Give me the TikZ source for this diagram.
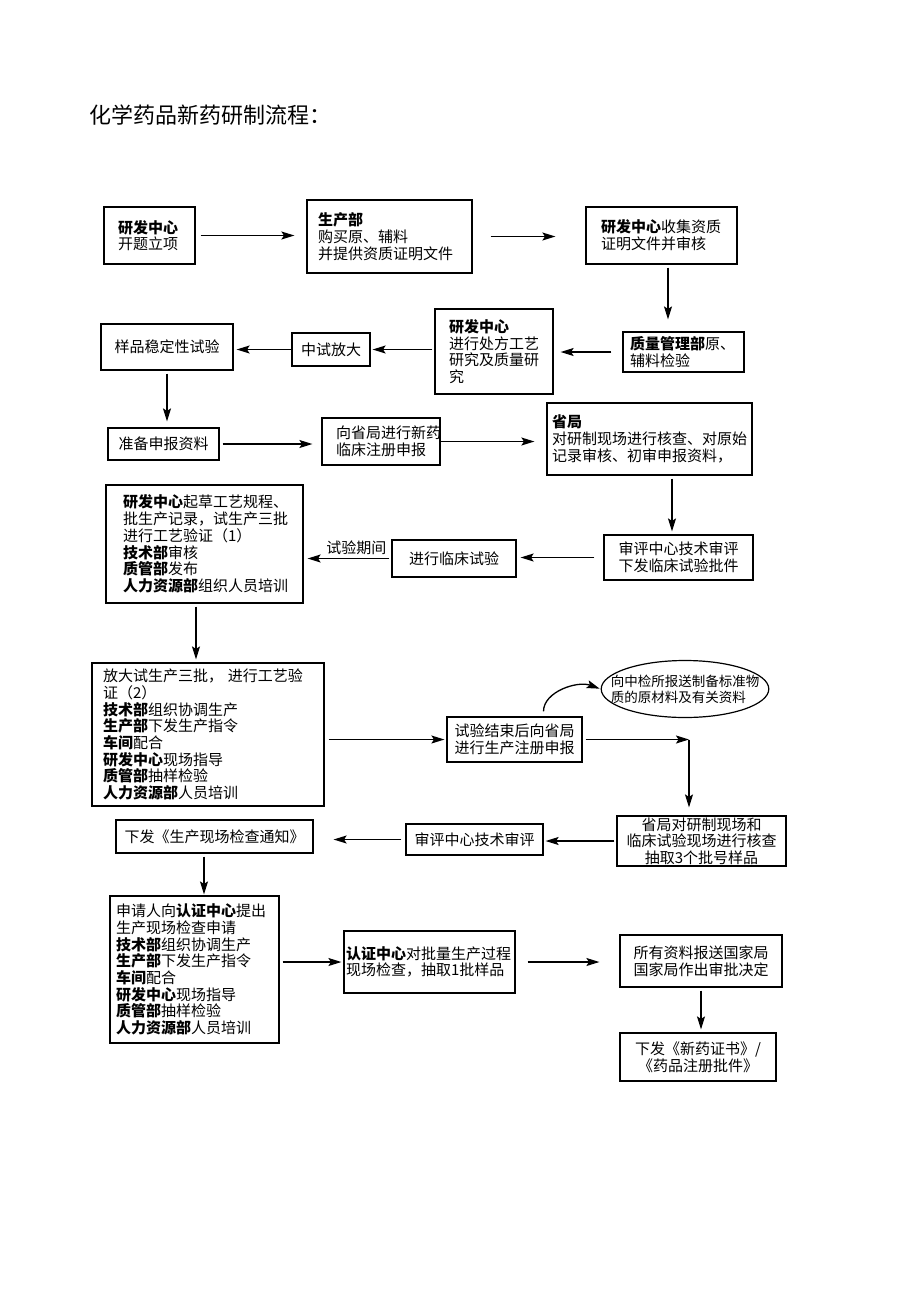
\documentclass[tikz,border=0pt]{standalone}
\usepackage{fontspec}
\setmainfont{Noto Sans CJK SC}
\usetikzlibrary{arrows.meta, shapes.geometric}
\newcommand{\dept}[1]{\textbf{#1}}

\tikzset{
  procbox/.style={draw, line width=1.2pt, inner xsep=6pt, inner ysep=2pt, align=center,
    font=\fontsize{15}{16.7}\selectfont},
  leftbox/.style={procbox, align=left},
  flow/.style={line width=1.3pt, -{Stealth[length=13pt,width=8pt,inset=2.5pt]}, shorten <=3pt, shorten >=3pt},
}

\begin{document}
\begin{tikzpicture}[x=1pt, y=-1pt]
    \useasboundingbox (0,0) rectangle (920,1302);

    % Title
    \node[anchor=west, font=\fontsize{22}{24}\selectfont] (title) at (86,115) {化学药品新药研制流程：};

    % Row 1
    \node[leftbox, text width=63pt, inner xsep=14pt, minimum height=57pt] (kaiti) at (149.5,235.5) {\dept{研发中心}\\开题立项};
    \node[leftbox, text width=143pt, inner xsep=11pt, minimum height=73pt] (goumai) at (389.5,236.5) {\dept{生产部}\\购买原、辅料\\并提供资质证明文件};
    \node[leftbox, text width=121pt, inner xsep=15pt, minimum height=57pt] (shouji) at (661.5,235.5) {\dept{研发中心}收集资质\\证明文件并审核};

    % Row 2
    \node[leftbox, text width=107pt, inner xsep=7pt, minimum height=40pt] (zhiliang) at (683.5,352) {\dept{质量管理部}原、\\辅料检验};
    \node[leftbox, text width=90pt, inner xsep=14pt, minimum height=85pt] (chufang) at (494,351.5) {\dept{研发中心}\\进行处方工艺\\研究及质量研\\究};
    \node[procbox, minimum width=78pt, minimum height=33pt] (zhongshi) at (331,349.5) {中试放大};
    \node[procbox, minimum width=132pt, minimum height=46pt] (yangpin) at (167,347) {样品稳定性试验};

    % Row 3
    \node[procbox, minimum width=111pt, minimum height=32pt] (zhunbei) at (163.5,444) {准备申报资料};
    \node[leftbox, text width=90pt, inner xsep=14pt, minimum height=47pt] (shenbao) at (381,441.5) {向省局进行新药\\临床注册申报};
    \node[leftbox, text width=195pt, inner xsep=5pt, minimum height=72pt] (shengju) at (649.5,439) {\dept{省局}\\对研制现场进行核查、对原始\\记录审核、初审申报资料，};

    % Row 4
    \node[procbox, minimum width=149pt, minimum height=45pt] (shenping) at (678.5,557.5) {审评中心技术审评\\下发临床试验批件};
    \node[procbox, minimum width=124pt, minimum height=37pt] (linchuang) at (454,558.5) {进行临床试验};
    \node[leftbox, text width=163pt, inner xsep=17pt, minimum height=118pt] (gongyi1) at (204.5,544) {\dept{研发中心}起草工艺规程、\\批生产记录，试生产三批\\进行工艺验证（1）\\\dept{技术部}审核\\\dept{质管部}发布\\\dept{人力资源部}组织人员培训};

    % Row 5
    \node[leftbox, text width=210pt, inner xsep=11pt, minimum height=143pt] (gongyi2) at (208,734.5) {放大试生产三批， 进行工艺验\\证（2）\\\dept{技术部}组织协调生产\\\dept{生产部}下发生产指令\\\dept{车间}配合\\\dept{研发中心}现场指导\\\dept{质管部}抽样检验\\\dept{人力资源部}人员培训};
    \node[procbox, minimum width=135pt, minimum height=45pt] (jieshu) at (514.5,739.5) {试验结束后向省局\\进行生产注册申报};
    \node[draw, ellipse, line width=1.2pt, minimum width=162pt, minimum height=57pt, inner xsep=-15pt, inner ysep=0pt, align=left,
      font=\fontsize{13.5}{16}\selectfont] (zhongjian) at (685,689) {向中检所报送制备标准物\\质的原材料及有关资料};
    \coordinate (turn) at (689,739.5);

    % Row 6
    \node[procbox, minimum width=169pt, minimum height=50pt, inner ysep=0pt] (hecha) at (701.5,841) {省局对研制现场和\\临床试验现场进行核查\\抽取3个批号样品};
    \node[procbox, minimum width=137pt, minimum height=31pt] (shenping2) at (474.5,839.5) {审评中心技术审评};
    \node[procbox, minimum width=197pt, minimum height=33pt] (tongzhi) at (214.5,836.5) {下发《生产现场检查通知》};

    % Row 7
    \node[leftbox, text width=157pt, inner xsep=6pt, minimum height=147pt] (renzheng) at (194.5,969.5) {申请人向\dept{认证中心}提出\\生产现场检查申请\\\dept{技术部}组织协调生产\\\dept{生产部}下发生产指令\\\dept{车间}配合\\\dept{研发中心}现场指导\\\dept{质管部}抽样检验\\\dept{人力资源部}人员培训};
    \node[leftbox, text width=167pt, inner xsep=2pt, minimum height=62pt] (jiancha) at (429.5,962) {\dept{认证中心}对批量生产过程\\现场检查，抽取1批样品};
    \node[procbox, minimum width=162pt, minimum height=52pt] (guojia) at (701,961) {所有资料报送国家局\\国家局作出审批决定};
    \node[procbox, minimum width=156pt, minimum height=48pt] (zhengshu) at (698,1057) {下发《新药证书》/\\《药品注册批件》};

    % Connectors
    \draw[flow, shorten <=5pt, shorten >=12pt] (kaiti.east) -- (kaiti.east -| goumai.west);
    \draw[flow, shorten <=18pt, shorten >=30pt] (goumai.east) -- (goumai.east -| shouji.west);
    \draw[flow, shorten >=12pt] ([xshift=6.5pt]shouji.south) -- ([xshift=6.5pt]shouji.south |- zhiliang.north);
    \draw[flow, shorten <=11pt, shorten >=7pt] (zhiliang.west) -- (zhiliang.west -| chufang.east);
    \draw[flow, shorten <=2pt, shorten >=2pt] (chufang.west |- zhongshi.east) -- (zhongshi.east);
    \draw[flow, shorten <=0pt] (zhongshi.west) -- (zhongshi.west -| yangpin.east);
    \draw[flow, shorten >=6pt] (yangpin.south) -- (yangpin.south |- zhunbei.north);
    \draw[flow, shorten >=9pt] (zhunbei.east) -- (zhunbei.east -| shenbao.west);
    \draw[flow, shorten <=0pt, shorten >=12pt] (shenbao.east) -- (shenbao.east -| shengju.west);
    \draw[flow] ([xshift=22.5pt]shengju.south) -- ([xshift=22.5pt]shengju.south |- shenping.north);
    \draw[flow, shorten <=9pt, shorten >=4pt] (shenping.west) -- (shenping.west -| linchuang.east);
    \draw[flow, shorten <=2pt, shorten >=4pt] (linchuang.west) -- node[above, pos=0.4, font=\fontsize{15}{16}\selectfont] (qijian) {试验期间} (linchuang.west -| gongyi1.east);
    \draw[flow] ([xshift=-8.5pt]gongyi1.south) -- ([xshift=-8.5pt]gongyi1.south |- gongyi2.north);
    \draw[flow, shorten <=4pt, shorten >=2pt] (gongyi2.east |- jieshu.west) -- (jieshu.west);
    \draw[flow, shorten <=5pt, shorten >=1pt] ([xshift=29pt]jieshu.north) to[out=90, in=160] (zhongjian.west);
    \draw[flow, shorten >=0pt] (jieshu.east) -- (turn);
    \draw[flow, shorten <=0pt, shorten >=8pt] (turn) -- (turn |- hecha.north);
    \draw[flow, shorten <=2pt, shorten >=2pt] (hecha.west) -- (hecha.west -| shenping2.east);
    \draw[flow, shorten <=4pt, shorten >=20pt] (shenping2.west) -- (shenping2.west -| tongzhi.east);
    \draw[flow, shorten >=1pt] ([xshift=-10.5pt]tongzhi.south) -- ([xshift=-10.5pt]tongzhi.south |- renzheng.north);
    \draw[flow, shorten >=2pt] (renzheng.east |- jiancha.west) -- (jiancha.west);
    \draw[flow, shorten <=12pt, shorten >=20pt] (jiancha.east) -- (jiancha.east -| guojia.west);
    \draw[flow] (guojia.south) -- (guojia.south |- zhengshu.north);
\end{tikzpicture}
\end{document}
